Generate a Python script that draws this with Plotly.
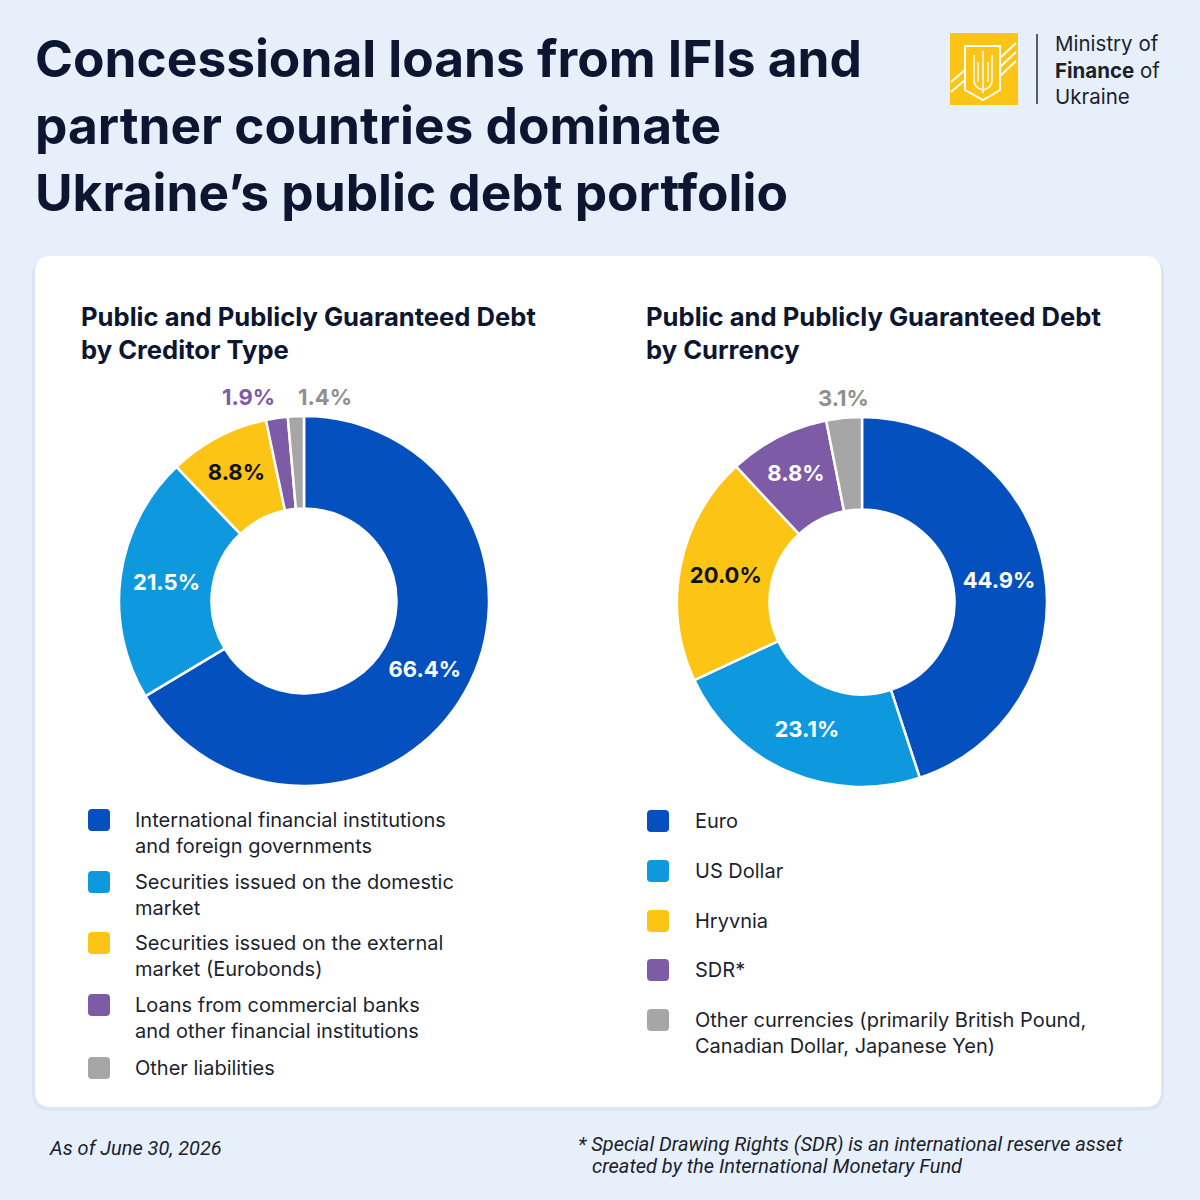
import math
import plotly.graph_objects as go

# ---- data ----
creditor_labels = [
    "International financial institutions<br>and foreign governments",
    "Securities issued on the domestic<br>market",
    "Securities issued on the external<br>market (Eurobonds)",
    "Loans from commercial banks<br>and other financial institutions",
    "Other liabilities",
]
creditor_values = [66.4, 21.5, 8.8, 1.9, 1.4]

currency_labels = [
    "Euro",
    "US Dollar",
    "Hryvnia",
    "SDR*",
    "Other currencies (primarily British Pound,<br>Canadian Dollar, Japanese Yen)",
]
currency_values = [44.9, 23.1, 20.0, 8.8, 3.1]

colors = ["#0550BF", "#0E98DE", "#FCC515", "#7D5BA6", "#A6A6A6"]
W = H = 1200
FONT = "Inter"
NAVY = "#0d1630"
TEXT = "#1c1f2e"


def px(x):
    return x / W


def py(y):
    return 1 - y / H


shapes = []
annotations = []


def donut(values, cx, cy, r, text_colors, outside_anchor):
    """inside labels via plotly, the small slices get labels above the ring"""
    texts = [f"{v:.1f}%" for v in values]
    inside = [a is None for a in outside_anchor]
    fig.add_trace(go.Pie(
        values=values,
        text=[t if ins else "" for t, ins in zip(texts, inside)],
        textinfo="text",
        textposition=["inside" if ins else "none" for ins in inside],
        textfont=dict(family=FONT, size=22, color=text_colors, weight=700),
        insidetextorientation="horizontal",
        marker=dict(colors=colors, line=dict(color="white", width=2.5)),
        hole=0.5,
        sort=False,
        direction="clockwise",
        rotation=0,
        showlegend=False,
        domain=dict(x=[px(cx - r), px(cx + r)], y=[py(cy + r), py(cy - r)]),
        hoverinfo="skip",
    ))
    total = sum(values)
    cum = 0
    for v, t, col, anc in zip(values, texts, text_colors, outside_anchor):
        mid = (cum + v / 2) / total * 2 * math.pi
        cum += v
        if anc is None:
            continue
        annotations.append(dict(x=px(cx + math.sin(mid) * r), y=py(cy - r - 19),
                                xanchor=anc, yanchor="middle", text=t,
                                font=dict(family=FONT, size=22, color=col, weight=700)))


fig = go.Figure()
donut(creditor_values, 304, 601, 185,
      ["white", "white", "#111111", "#7D5BA6", "#8f8f8f"],
      [None, None, None, "right", "left"])
donut(currency_values, 862, 602, 185,
      ["white", "white", "#111111", "white", "#8f8f8f"],
      [None, None, None, None, "center"])


def rounded_rect(x0, y0, x1, y1, rad, fill):
    path = (f"M {px(x0 + rad)} {py(y0)} L {px(x1 - rad)} {py(y0)} "
            f"Q {px(x1)} {py(y0)} {px(x1)} {py(y0 + rad)} "
            f"L {px(x1)} {py(y1 - rad)} Q {px(x1)} {py(y1)} {px(x1 - rad)} {py(y1)} "
            f"L {px(x0 + rad)} {py(y1)} Q {px(x0)} {py(y1)} {px(x0)} {py(y1 - rad)} "
            f"L {px(x0)} {py(y0 + rad)} Q {px(x0)} {py(y0)} {px(x0 + rad)} {py(y0)} Z")
    return dict(type="path", xref="paper", yref="paper", path=path, fillcolor=fill,
                line=dict(width=0), layer="below")


# card with faint shadow
shapes.append(rounded_rect(32, 257, 1164, 1111, 19, "#dbe6f2"))
shapes.append(rounded_rect(35, 256, 1161, 1107, 16, "white"))

# title
annotations.append(dict(
    x=px(33), y=py(25), xanchor="left", yanchor="top",
    text="Concessional loans from IFIs and<br>partner countries dominate<br>Ukraine’s public debt portfolio",
    font=dict(family=FONT, size=51.4, color=NAVY, weight=700), align="left"))

# subtitles
for x, t in [(79, "Public and Publicly Guaranteed Debt<br>by Creditor Type"),
             (644, "Public and Publicly Guaranteed Debt<br>by Currency")]:
    annotations.append(dict(x=px(x), y=py(299), xanchor="left", yanchor="top", text=t,
                            font=dict(family=FONT, size=25.6, color=NAVY, weight=700),
                            align="left"))


# legends
def legend(labels, x_sq, x_txt, y_centers):
    for lab, col, yc in zip(labels, colors, y_centers):
        shapes.append(rounded_rect(x_sq, yc - 11, x_sq + 22, yc + 11, 4, col))
        annotations.append(dict(x=px(x_txt), y=py(yc - 14), xanchor="left", yanchor="top",
                                text=lab, align="left",
                                font=dict(family=FONT, size=20, color=TEXT)))


legend(creditor_labels, 88, 133, [820, 882, 943, 1005, 1068])
legend(currency_labels, 647, 693, [821, 871, 921, 970, 1020])

# footer
foot = dict(family="Roboto", size=20, color=TEXT, style="italic")
annotations.append(dict(x=px(47), y=py(1148), xanchor="left", yanchor="middle",
                        text="As of June 30, 2026", font=foot))
annotations.append(dict(x=px(576), y=py(1144), xanchor="left", yanchor="middle",
                        text="* Special Drawing Rights (SDR) is an international reserve asset",
                        font=foot))
annotations.append(dict(x=px(590), y=py(1166), xanchor="left", yanchor="middle",
                        text="created by the International Monetary Fund", font=foot))

# logo
shapes.append(dict(type="rect", xref="paper", yref="paper", x0=px(950), x1=px(1018),
                   y0=py(105), y1=py(33), fillcolor="#FCC515", line=dict(width=0)))
shield = (f"M {px(965)} {py(46)} L {px(1000)} {py(46)} L {px(1000)} {py(90)} "
          f"L {px(983)} {py(100)} L {px(965)} {py(90)} Z")
shapes.append(dict(type="path", xref="paper", yref="paper", path=shield,
                   line=dict(color="white", width=2)))
for k in range(3):
    shapes.append(dict(type="line", xref="paper", yref="paper",
                       x0=px(1000), y0=py(58 + 9 * k), x1=px(1016), y1=py(43 + 9 * k),
                       line=dict(color="white", width=2)))
for k in range(2):
    shapes.append(dict(type="line", xref="paper", yref="paper",
                       x0=px(951), y0=py(82 + 10 * k), x1=px(965), y1=py(70 + 10 * k),
                       line=dict(color="white", width=2)))
trident = (f"M {px(974)} {py(55)} L {px(974)} {py(80)} Q {px(974)} {py(88)} {px(983)} {py(90)} "
           f"Q {px(992)} {py(88)} {px(992)} {py(80)} L {px(992)} {py(55)} "
           f"M {px(983)} {py(51)} L {px(983)} {py(93)} "
           f"M {px(978)} {py(62)} L {px(978)} {py(82)} M {px(988)} {py(62)} L {px(988)} {py(82)}")
shapes.append(dict(type="path", xref="paper", yref="paper", path=trident,
                   line=dict(color="white", width=1.5)))
shapes.append(dict(type="line", xref="paper", yref="paper", x0=px(1037), x1=px(1037),
                   y0=py(34), y1=py(104), line=dict(color="#2a2d3a", width=1.5)))
annotations.append(dict(x=px(1053), y=py(70), xanchor="left", yanchor="middle", align="left",
                        text="Ministry of<br><b>Finance</b> of<br>Ukraine",
                        font=dict(family=FONT, size=20.5, color=TEXT)))

for a in annotations:
    a.update(xref="paper", yref="paper", showarrow=False)

fig.update_layout(
    width=W, height=H,
    margin=dict(l=0, r=0, t=0, b=0),
    paper_bgcolor="#e7f0fa",
    plot_bgcolor="#e7f0fa",
    shapes=shapes,
    annotations=annotations,
)

fig.write_html("out.html",
               config={"displayModeBar": False},
               post_script="document.body.style.margin='0px';"
                           "document.body.style.overflow='hidden';")
